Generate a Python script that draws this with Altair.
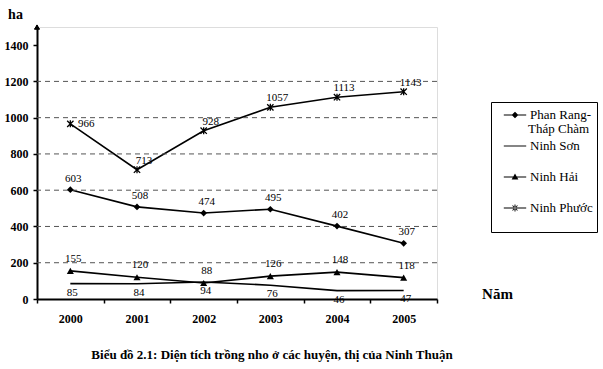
import altair as alt
import pandas as pd

years = ["2000", "2001", "2002", "2003", "2004", "2005"]
series_names = ["Phan Rang-Tháp Chàm", "Ninh Sơn", "Ninh Hải", "Ninh Phước"]
phan_rang = [603, 508, 474, 495, 402, 307]
ninh_son = [85, 84, 94, 76, 46, 47]
ninh_hai = [155, 120, 88, 126, 148, 118]
ninh_phuoc = [966, 713, 928, 1057, 1113, 1143]
grid_values = [200, 400, 600, 800, 1000, 1200]
y_ticks = [0, 200, 400, 600, 800, 1000, 1200, 1400]
y_max = 1500
legend_line1 = "Phan Rang-"
legend_line2 = "Tháp Chàm"

rows = []
for name, vals in zip(series_names, [phan_rang, ninh_son, ninh_hai, ninh_phuoc]):
    for yr, v in zip(years, vals):
        rows.append({"year": yr, "series": name, "value": v})
df = pd.DataFrame(rows)
grid_df = pd.DataFrame({"value": grid_values})

FONT = "Liberation Serif, Times New Roman, DejaVu Serif, serif"

x_enc = alt.X("year:N", scale=alt.Scale(type="band", domain=years, paddingInner=0, paddingOuter=0),
              axis=alt.Axis(title="Năm", titleX=460, titleY=-6, titleAlign="center",
                            titleBaseline="middle", titleFont=FONT, titleFontSize=15,
                            titleFontWeight="bold", titleColor="black",
                            labelFont=FONT, labelFontSize=12, labelFontWeight="bold",
                            labelColor="black", labelPadding=10, labelAngle=0,
                            tickBand="extent", tickSize=4, tickColor="black", tickWidth=1.5,
                            domainColor="black", domainWidth=2))
y_scale = alt.Scale(domain=[0, y_max], nice=False)
y_axis = alt.Axis(values=y_ticks, format="d", labelOverlap=False, title="ha", titleAngle=0,
                  titleX=-22, titleY=-13,
                  titleAlign="center", titleBaseline="middle", titleFont=FONT,
                  titleFontSize=14, titleFontWeight="bold", titleColor="black",
                  labelFont=FONT, labelFontSize=12, labelFontWeight="bold",
                  labelColor="black", labelPadding=5, tickSize=4, tickColor="black",
                  tickWidth=1.5, domainColor="black", domainWidth=2, grid=False)
y_enc = alt.Y("value:Q", scale=y_scale, axis=y_axis)

base = alt.Chart(df)

grid = alt.Chart(grid_df).mark_rule(color="#555555", strokeDash=[5, 4], strokeWidth=1).encode(
    y=alt.Y("value:Q", scale=y_scale, axis=y_axis)
)

lines = base.mark_line(color="black", strokeWidth=1.6).encode(
    x=x_enc, y=y_enc, detail="series:N"
)

def pts(name, shape, size, filled=True):
    return base.transform_filter(alt.datum.series == name).mark_point(
        shape=shape, size=size, filled=filled, color="black", strokeWidth=1.3, opacity=1
    ).encode(x=alt.X("year:N"), y=alt.Y("value:Q", axis=y_axis))

asterisk = "M-1,-1L1,1M-1,1L1,-1M0,-1.1V1.1"
p1 = pts("Phan Rang-Tháp Chàm", "diamond", 45)
p3 = pts("Ninh Hải", "triangle-up", 50)
p4 = pts("Ninh Phước", asterisk, 40, filled=False)

def labels(cond, dx, dy):
    return base.transform_filter(cond).mark_text(
        font=FONT, fontSize=11, color="black", dx=dx, dy=dy
    ).encode(x=alt.X("year:N"), y=alt.Y("value:Q", axis=y_axis), text="value:Q")

t1 = labels(alt.datum.series == "Phan Rang-Tháp Chàm", 3, -11)
t2 = labels(alt.datum.series == "Ninh Sơn", 2, 9)
t3 = labels(alt.datum.series == "Ninh Hải", 3, -12)
t4 = labels((alt.datum.series == "Ninh Phước") & (alt.datum.year != "2000"), 7, -9)
t5 = labels((alt.datum.series == "Ninh Phước") & (alt.datum.year == "2000"), 16, 0)

arrow = alt.Chart(grid_df).mark_point(shape="triangle-up", filled=True, color="black",
                                      size=28, opacity=1).encode(
    x=alt.value(0), y=alt.datum(y_max, scale=y_scale, axis=y_axis)
)

# legend symbols (unit box: 1 = 8px at symbolSize 256)
LINE = "M-1.4,-0.06H1.4V0.06H-1.4Z"
leg_paths = [
    LINE + "M0,-0.42L0.42,0L0,0.42L-0.42,0Z",
    LINE,
    LINE + "M0,-0.45L0.42,0.3L-0.42,0.3Z",
    LINE + "M-0.06,-0.45H0.06V0.45H-0.06Z"
    + "M0.27,0.35L0.35,0.27L-0.27,-0.35L-0.35,-0.27Z"
    + "M0.35,-0.27L0.27,-0.35L-0.35,0.27L-0.27,0.35Z",
]
label_expr = f"datum.label == 'Phan Rang-Tháp Chàm' ? '{legend_line1}' : datum.label"
legend_layer = base.transform_filter("false").mark_point(
    filled=True, color="black", size=256, opacity=1
).encode(
    x=alt.X("year:N"), y=alt.Y("value:Q", axis=y_axis),
    shape=alt.Shape("series:N", scale=alt.Scale(domain=series_names, range=leg_paths),
                    legend=alt.Legend(
                        title=" ", titleOrient="bottom", titleFontSize=10, titlePadding=3,
                        orient="none", legendX=454, legendY=75,
                        strokeColor="black", fillColor="white", padding=4,
                        symbolOffset=11,
                        symbolSize=256, symbolFillColor="black", symbolOpacity=1,
                        labelFont=FONT, labelFontSize=13, labelColor="black",
                        labelOffset=6, rowPadding=15, labelLimit=200,
                        labelExpr=label_expr,
                    ))
)

legend_layer2 = base.transform_filter("false").mark_point(
    filled=True, color="black", size=0, opacity=1
).encode(
    x=alt.X("year:N"), y=alt.Y("value:Q", axis=y_axis),
    opacity=alt.Opacity("series:N", scale=alt.Scale(domain=[legend_line2], range=[1]),
                        legend=alt.Legend(
                            title=None, orient="none", legendX=478, legendY=95,
                            padding=0, symbolSize=0, symbolOffset=0, labelOffset=0,
                            symbolFillColor="transparent", symbolStrokeColor="transparent",
                            labelFont=FONT, labelFontSize=13, labelColor="black",
                            labelLimit=200,
                        ))
)

chart = alt.layer(lines, grid, p1, p3, p4, t1, t2, t3, t4, t5, arrow, legend_layer,
                  legend_layer2).properties(
    width=400, height=272,
    padding={"left": 37, "top": 27, "right": 166, "bottom": 70},
    autosize=alt.AutoSizeParams(type="none"),
    title=alt.TitleParams(
        "Biểu đồ 2.1: Diện tích trồng nho ở các huyện, thị của Ninh Thuận",
        orient="bottom", anchor="middle", dx=35, offset=25, font=FONT, fontSize=13,
        fontWeight="bold", color="black",
    ),
).configure_view(stroke=None).configure(background="white").configure_axisY(
    labelOverlap=False, values=y_ticks
)

chart.save("out.html", embed_options={"renderer": "svg", "actions": False})
